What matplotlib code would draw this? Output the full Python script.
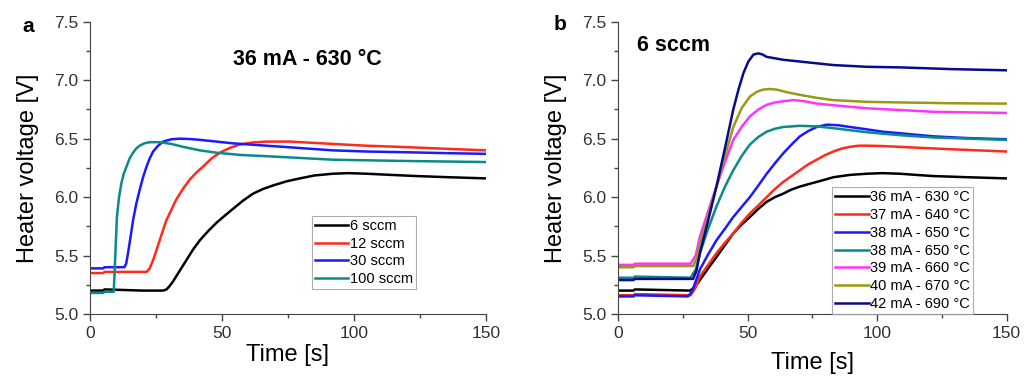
import matplotlib.pyplot as plt
from matplotlib.ticker import MultipleLocator

plt.rcParams['font.family'] = ['Liberation Sans', 'DejaVu Sans']

# ---- panel a : 36 mA - 630 C, different flows
a_labels = ['6 sccm', '12 sccm', '30 sccm', '100 sccm']
a_colors = ['#000000', '#ff2a1a', '#1a1aff', '#0a8a8a']
a_t = [
    [0, 5, 5.5, 20, 27.7, 29, 30.2, 31.5, 34, 36.5, 39, 41.6, 44.8, 47.9, 51, 54.2, 58, 61.8, 65.6, 69.4,
     74.5, 79.5, 85, 92, 98, 104.8, 114, 123.7, 136, 150],
    [0, 5, 5.5, 21.4, 22.6, 23.9, 25.1, 26.4, 27.7, 28.9, 30.8, 32.7, 35.2, 37.8, 40.3, 42.8, 46, 49.2,
     52.9, 56.7, 61.8, 66.9, 75.7, 84, 92, 104.5, 117, 133, 150],
    [0, 5, 5.5, 13, 13.7, 14.4, 15.3, 16.3, 17.5, 18.8, 20.1, 21.4, 22.6, 23.9, 25.8, 27.7, 30.8, 34,
     37.8, 41.6, 47.9, 54.2, 63.7, 73.2, 82.6, 92, 104.7, 117.4, 133, 150],
    [0, 5, 5.5, 9, 9.2, 9.4, 9.8, 10.2, 11, 11.9, 12.8, 13.8, 15, 16.3, 17.5, 18.8, 20.6, 22.6, 26.4,
     30.8, 35.3, 41.6, 47.9, 57.4, 66.9, 79.5, 92, 104.5, 117, 133, 150],
]
a_v = [
    [5.20, 5.20, 5.21, 5.20, 5.20, 5.21, 5.24, 5.28, 5.37, 5.46, 5.55, 5.63, 5.71, 5.78, 5.84, 5.90, 5.97,
     6.03, 6.07, 6.10, 6.135, 6.16, 6.185, 6.20, 6.205, 6.20, 6.19, 6.18, 6.17, 6.16],
    [5.35, 5.35, 5.36, 5.36, 5.39, 5.46, 5.54, 5.63, 5.72, 5.80, 5.89, 5.98, 6.07, 6.15, 6.21, 6.26, 6.33,
     6.38, 6.42, 6.45, 6.468, 6.475, 6.475, 6.465, 6.455, 6.44, 6.43, 6.415, 6.40],
    [5.39, 5.39, 5.40, 5.40, 5.43, 5.52, 5.65, 5.80, 5.94, 6.06, 6.17, 6.26, 6.33, 6.39, 6.44, 6.475,
     6.495, 6.50, 6.497, 6.49, 6.475, 6.46, 6.445, 6.43, 6.415, 6.40, 6.39, 6.385, 6.377, 6.37],
    [5.18, 5.18, 5.19, 5.19, 5.30, 5.40, 5.62, 5.83, 6.00, 6.12, 6.20, 6.26, 6.33, 6.38, 6.415, 6.44,
     6.46, 6.47, 6.47, 6.455, 6.43, 6.40, 6.38, 6.36, 6.35, 6.335, 6.32, 6.315, 6.31, 6.305, 6.30],
]

# ---- panel b : 6 sccm, different heater currents
b_labels = ['36 mA - 630 °C', '37 mA - 640 °C', '38 mA - 650 °C', '38 mA - 650 °C',
            '39 mA - 660 °C', '40 mA - 670 °C', '42 mA - 690 °C']
b_colors = ['#000000', '#ff2a1a', '#1a1aff', '#0a8a8a', '#ff33ff', '#999913', '#0a0a8c']
b_t = [
    [0, 6, 6.5, 27.8, 29.7, 31.6, 34.8, 38.1, 41.3, 44.5, 47.7, 50.9, 54.2, 57.4, 60.6, 63.8, 67, 70.2,
     73.4, 76.7, 80, 83.1, 89.5, 96, 102, 108.8, 115, 121.7, 135, 150],
    [0, 6, 6.5, 28, 29.8, 31.6, 34.8, 38, 41.3, 44.5, 47.7, 50.9, 54.2, 57.4, 60.6, 63.8, 67, 70.2, 73.4,
     76.7, 80, 83.1, 86.3, 89.5, 93, 96, 102, 108.8, 118, 128, 139, 150],
    [0, 6, 6.5, 27, 28.5, 30, 31.6, 34.8, 38, 41.3, 44.5, 47.7, 50.9, 54.2, 57.4, 60.6, 63.8, 67, 70.2,
     73.4, 76.7, 80.5, 85, 89.5, 96, 102, 112, 121.7, 135, 150],
    [0, 6, 6.5, 28, 30, 31.6, 34.8, 38, 41.3, 44.5, 47.7, 50.9, 54.2, 57.4, 60.6, 63.8, 70.2, 76.6, 83,
     96, 108.8, 121.7, 135, 150],
    [0, 6, 6.5, 28, 30, 31.6, 34.8, 38, 41.3, 44.5, 47.7, 50.9, 54.2, 57.4, 60.6, 63.8, 67.7, 72, 76.7,
     86, 96, 108.8, 121.7, 135, 150],
    [0, 6, 6.5, 29, 30.3, 31.6, 34.8, 38, 41.3, 44.5, 47.7, 50.9, 53.5, 56, 58.6, 61.2, 65.7, 70.2, 76.6,
     83, 96, 108.8, 129, 150],
    [0, 6, 6.5, 29, 30.3, 31.6, 34.8, 38, 41.3, 44.5, 46.5, 48.4, 50.3, 52.3, 54.2, 55.8, 57.4, 63.8,
     70.2, 76.6, 83, 96, 108.8, 129, 150],
]
b_v = [
    [5.20, 5.20, 5.21, 5.20, 5.23, 5.29, 5.39, 5.49, 5.59, 5.69, 5.765, 5.83, 5.90, 5.96, 6.00, 6.03, 6.065,
     6.09, 6.11, 6.13, 6.15, 6.17, 6.19, 6.20, 6.205, 6.20, 6.19, 6.18, 6.17, 6.16],
    [5.16, 5.16, 5.17, 5.16, 5.22, 5.32, 5.42, 5.52, 5.61, 5.69, 5.78, 5.86, 5.93, 6.00, 6.07, 6.13, 6.18,
     6.23, 6.28, 6.32, 6.36, 6.39, 6.415, 6.43, 6.44, 6.44, 6.437, 6.43, 6.42, 6.41, 6.40, 6.39],
    [5.15, 5.15, 5.16, 5.15, 5.19, 5.28, 5.38, 5.51, 5.63, 5.73, 5.83, 5.915, 6.00, 6.10, 6.20, 6.29,
     6.375, 6.45, 6.52, 6.565, 6.60, 6.62, 6.615, 6.60, 6.58, 6.56, 6.54, 6.52, 6.505, 6.495],
    [5.31, 5.31, 5.32, 5.31, 5.38, 5.52, 5.73, 5.92, 6.09, 6.23, 6.35, 6.45, 6.515, 6.56, 6.585, 6.60,
     6.61, 6.605, 6.59, 6.555, 6.53, 6.51, 6.50, 6.49],
    [5.42, 5.42, 5.43, 5.43, 5.50, 5.66, 5.88, 6.09, 6.30, 6.49, 6.60, 6.69, 6.75, 6.79, 6.81, 6.82, 6.83,
     6.82, 6.80, 6.78, 6.76, 6.745, 6.73, 6.725, 6.72],
    [5.40, 5.40, 5.41, 5.41, 5.47, 5.60, 5.84, 6.09, 6.35, 6.60, 6.76, 6.86, 6.90, 6.92, 6.925, 6.92,
     6.895, 6.875, 6.85, 6.83, 6.815, 6.81, 6.803, 6.80],
    [5.29, 5.29, 5.30, 5.30, 5.37, 5.52, 5.80, 6.09, 6.42, 6.75, 6.92, 7.06, 7.16, 7.22, 7.23, 7.22, 7.20,
     7.175, 7.16, 7.145, 7.13, 7.115, 7.11, 7.095, 7.085],
]

fig = plt.figure(figsize=(10.31, 3.76), dpi=100)
ax_a = fig.add_axes([0.0873, 0.165, 0.384, 0.777])
ax_b = fig.add_axes([0.5994, 0.165, 0.377, 0.777])

for ax in (ax_a, ax_b):
    ax.set_xlim(0, 150)
    ax.set_ylim(5.0, 7.5)
    ax.xaxis.set_major_locator(MultipleLocator(50))
    ax.xaxis.set_minor_locator(MultipleLocator(25))
    ax.yaxis.set_major_locator(MultipleLocator(0.5))
    ax.yaxis.set_minor_locator(MultipleLocator(0.25))
    ax.spines['top'].set_visible(False)
    ax.spines['right'].set_visible(False)
    ax.spines['left'].set_color('#444444')
    ax.spines['bottom'].set_color('#444444')
    ax.tick_params(which='major', direction='out', length=5, width=1, color='#444444',
                   labelsize=12.5, labelcolor='#333333')
    ax.tick_params(which='minor', direction='out', length=3, width=1, color='#444444')
    ax.yaxis.set_major_formatter(plt.FormatStrFormatter('%.1f'))
    ax.set_ylabel('Heater voltage [V]', fontsize=17, labelpad=11)

for t, v, c, lab in zip(a_t, a_v, a_colors, a_labels):
    ax_a.plot(t, v, color=c, lw=1.8, label=lab)
for t, v, c, lab in zip(b_t, b_v, b_colors, b_labels):
    ax_b.plot(t, v, color=c, lw=1.8, label=lab)

ax_a.set_xlabel('Time [s]', fontsize=17, labelpad=2)
ax_b.set_xlabel('Time [s]', fontsize=17, labelpad=8)

ax_a.text(0.55, 0.87, '36 mA - 630 °C', transform=ax_a.transAxes, ha='center', va='center',
          fontsize=15.5, fontweight='bold')
ax_b.text(0.05, 0.92, '6 sccm', transform=ax_b.transAxes, ha='left', va='center',
          fontsize=15.5, fontweight='bold')
fig.text(28 / 1031, 1 - 26 / 376, 'a', ha='center', va='center', fontsize=15, fontweight='bold')
fig.text(560 / 1031, 1 - 24 / 376, 'b', ha='center', va='center', fontsize=15, fontweight='bold')

leg_kw = dict(frameon=True, fancybox=False, edgecolor='#999999', handlelength=2.3,
              handletextpad=0.1, labelspacing=0.26, borderpad=0.2, borderaxespad=0)
la = ax_a.legend(loc='lower left', bbox_to_anchor=(0.56, 0.085), fontsize=10.5, **leg_kw)
lb = ax_b.legend(loc='lower left', bbox_to_anchor=(0.551, 0.0), fontsize=10.5, **leg_kw)
for lg in (la, lb):
    lg.get_frame().set_linewidth(0.8)

fig.savefig('out.png', dpi=100)
